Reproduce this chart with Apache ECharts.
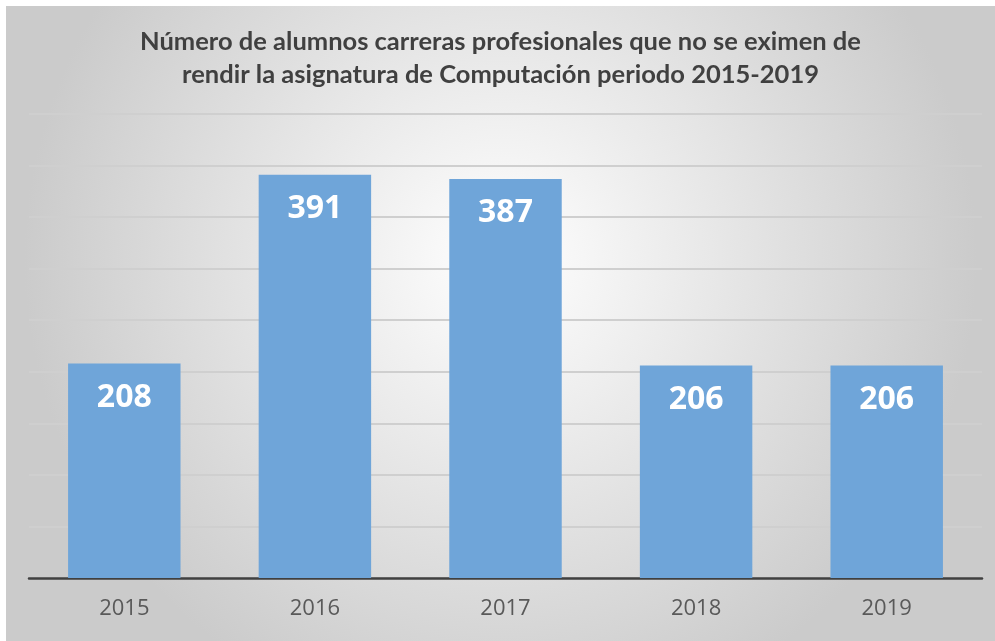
<!DOCTYPE html>
<html>
<head>
<meta charset="utf-8">
<script src="https://cdn.jsdelivr.net/npm/echarts@6/dist/echarts.min.js"></script>
<style>
    html, body { margin: 0; padding: 0; background: #ffffff; }
    #chart { position: absolute; left: 6px; top: 6px; width: 989px; height: 635px; }
</style>
</head>
<body>
<div id="chart"></div>
<script>
    'use strict';

    // años y alumnos que no se eximen
    var years = ['2015', '2016', '2017', '2018', '2019'];
    var students = [208, 391, 387, 206, 206];

    var chart = echarts.init(document.getElementById('chart'));

    chart.setOption({
        backgroundColor: new echarts.graphic.RadialGradient(0.5, 0.4, 0.75, [
            {offset: 0, color: '#ffffff'},
            {offset: 1, color: '#cbcbcb'}
        ]),
        title: {
            text: 'Número de alumnos carreras profesionales que no se eximen de\nrendir la asignatura de Computación periodo 2015-2019',
            left: 'center',
            top: 14,
            textStyle: {
                fontFamily: 'Lato',
                fontWeight: 'bold',
                fontSize: 25.5,
                lineHeight: 33,
                color: '#404040'
            }
        },
        grid: {left: 23, right: 13, top: 108, bottom: 63},
        xAxis: {
            type: 'category',
            data: years,
            axisTick: {show: false},
            axisLine: {lineStyle: {color: '#404040', width: 2.5}},
            axisLabel: {
                fontFamily: 'Open Sans',
                fontSize: 22,
                color: '#595959',
                margin: 20
            }
        },
        yAxis: {
            type: 'value',
            min: 0,
            max: 450,
            interval: 50,
            axisLabel: {show: false},
            axisLine: {show: false},
            axisTick: {show: false},
            splitLine: {lineStyle: {color: '#cfcfcf', width: 2}}
        },
        series: [{
            type: 'bar',
            data: students,
            barCategoryGap: '41%',
            itemStyle: {color: '#6fa5d9'},
            label: {
                show: true,
                position: 'insideTop',
                distance: 18,
                fontFamily: 'Open Sans',
                fontWeight: 'bold',
                fontSize: 32,
                color: '#ffffff'
            }
        }]
    });
</script>
</body>
</html>
